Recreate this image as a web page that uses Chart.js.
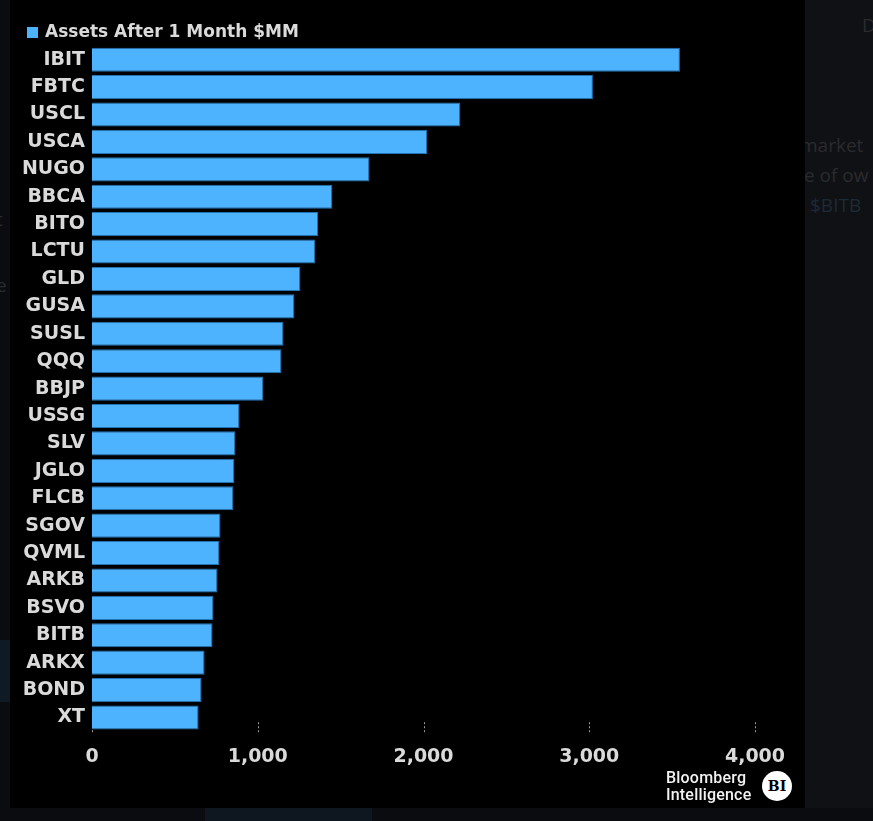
<!DOCTYPE html>
<html>
<head>
<meta charset="utf-8">
<script src="https://cdn.jsdelivr.net/npm/chart.js@4"></script>
<style>
  html, body { margin: 0; padding: 0; }
  body { width: 873px; height: 821px; background: #0b0c0f; position: relative; overflow: hidden; font-family: "DejaVu Sans", sans-serif; }
  #side { position: absolute; left: 805px; top: 0; width: 68px; height: 808px; background: #101114; }
  #panel { position: absolute; left: 10px; top: 0; width: 795px; height: 808px; background: #000; }
  #panel canvas { position: absolute; left: 0; top: 0; }
  .ghost { position: absolute; font-family: "Open Sans", sans-serif; font-size: 19px; color: #2a2b2e; white-space: nowrap; }
  #brand { position: absolute; left: 656px; top: 769px; font-family: "Roboto", sans-serif; font-weight: 500; font-size: 16px; line-height: 17px; color: #f2f2f2; letter-spacing: 0.2px; }
  #bi { position: absolute; left: 752px; top: 771px; width: 30px; height: 30px; border-radius: 50%; background: #fff; color: #000; font-family: "DejaVu Serif", serif; font-weight: bold; font-size: 14px; line-height: 30px; text-align: center; }
</style>
</head>
<body>
<div id="side"></div>
<div class="ghost" style="left:862px;top:12px;">D</div>
<div class="ghost" style="left:800px;top:132px;">market</div>
<div class="ghost" style="left:804px;top:162px;">e of ow</div>
<div class="ghost" style="left:810px;top:192px;color:#1d2a36;">$BITB</div>
<div class="ghost" style="left:-4px;top:206px;">t</div>
<div class="ghost" style="left:-4px;top:272px;">e</div>
<div class="ghost" style="left:-6px;top:458px;">(</div>
<div style="position:absolute;left:0;top:640px;width:10px;height:62px;background:#0e1a24;"></div>
<div style="position:absolute;left:205px;top:808px;width:167px;height:13px;background:#0e1620;"></div>
<div id="panel">
  <canvas id="chart" width="795" height="808"></canvas>
  <div id="brand">Bloomberg<br>Intelligence</div>
  <div id="bi">BI</div>
</div>
<script>
const seriesLabel = 'Assets After 1 Month $MM';
const tickers = ['IBIT', 'FBTC', 'USCL', 'USCA', 'NUGO', 'BBCA', 'BITO', 'LCTU', 'GLD', 'GUSA',
    'SUSL', 'QQQ', 'BBJP', 'USSG', 'SLV', 'JGLO', 'FLCB', 'SGOV', 'QVML', 'ARKB',
    'BSVO', 'BITB', 'ARKX', 'BOND', 'XT'];
const assets = [3547, 3022, 2222, 2022, 1674, 1450, 1365, 1347, 1257, 1221,
    1155, 1143, 1034, 890, 865, 859, 853, 775, 769, 757,
    733, 727, 679, 661, 643];
const xTicks = [0, 1000, 2000, 3000, 4000];

const barColor = '#4db3ff';
const barEdge = '#2473b5';
const textColor = '#dadada';

// little dashed tick marks at the foot of the plot, drawn under the bars
const footTicks = {
    id: 'footTicks',
    beforeDatasetsDraw(chart) {
        const ctx = chart.ctx;
        const x = chart.scales.x;
        const bottom = chart.chartArea.bottom;
        ctx.save();
        ctx.strokeStyle = '#9a9a9a';
        ctx.lineWidth = 1;
        ctx.setLineDash([2, 2]);
        xTicks.forEach(v => {
            const px = Math.round(x.getPixelForValue(v)) + 0.5;
            ctx.beginPath();
            ctx.moveTo(px, bottom - 9);
            ctx.lineTo(px, bottom + 3);
            ctx.stroke();
        });
        ctx.restore();
    }
};

// legend swatch + label at the top left
const topLegend = {
    id: 'topLegend',
    afterDraw(chart) {
        const ctx = chart.ctx;
        ctx.save();
        ctx.fillStyle = barColor;
        ctx.fillRect(17, 27, 11, 11);
        ctx.fillStyle = textColor;
        ctx.font = 'bold 17px "DejaVu Sans"';
        ctx.textBaseline = 'middle';
        ctx.fillText(chart.data.datasets[0].label, 35, 33);
        ctx.restore();
    }
};

new Chart(document.getElementById('chart'), {
    type: 'bar',
    data: {
        labels: tickers,
        datasets: [{
            label: seriesLabel,
            data: assets,
            backgroundColor: barColor,
            borderColor: barEdge,
            borderWidth: 1,
            categoryPercentage: 1,
            barPercentage: 0.88
        }]
    },
    options: {
        indexAxis: 'y',
        responsive: false,
        animation: false,
        layout: { padding: { left: 7, right: 50, top: 46, bottom: 34 } },
        plugins: {
            legend: { display: false },
            tooltip: { enabled: false }
        },
        scales: {
            x: {
                min: 0,
                max: 4000,
                afterBuildTicks: scale => { scale.ticks = xTicks.map(v => ({ value: v })); },
                grid: { display: false },
                border: { display: false },
                ticks: {
                    color: textColor,
                    font: { family: 'DejaVu Sans', weight: 'bold', size: 19 },
                    padding: 6,
                    maxRotation: 0,
                    callback: v => v.toLocaleString('en-US')
                }
            },
            y: {
                afterFit: scale => { scale.width = 75; },
                grid: { display: false, drawTicks: false },
                border: { display: false },
                ticks: {
                    color: textColor,
                    font: { family: 'DejaVu Sans', weight: 'bold', size: 19 },
                    padding: 7,
                    autoSkip: false
                }
            }
        }
    },
    plugins: [footTicks, topLegend]
});
</script>
</body>
</html>
